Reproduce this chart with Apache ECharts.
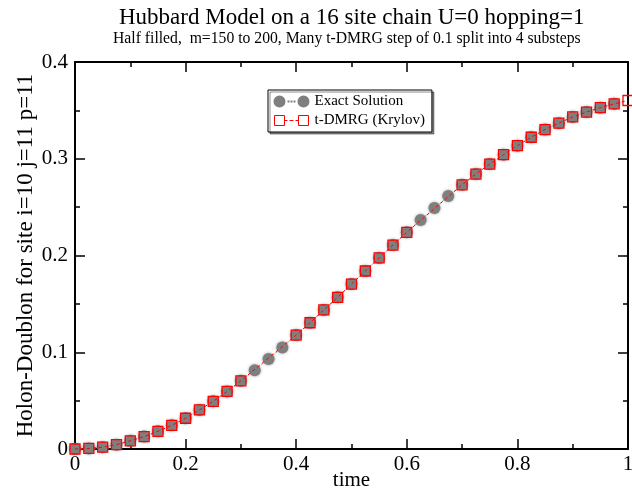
<!DOCTYPE html>
<html>
<head>
<meta charset="utf-8">
<script src="https://cdn.jsdelivr.net/npm/echarts@6/dist/echarts.min.js"></script>
<style>
  html, body { margin: 0; padding: 0; background: #fff; }
  #main { width: 632px; height: 492px; }
</style>
</head>
<body>
<div id="main"></div>
<script>
// exact solution, t = 0 .. 0.975
var exactTime = [0, 0.025, 0.05, 0.075, 0.1, 0.125, 0.15, 0.175, 0.2, 0.225,
  0.25, 0.275, 0.3, 0.325, 0.35, 0.375, 0.4, 0.425, 0.45, 0.475,
  0.5, 0.525, 0.55, 0.575, 0.6, 0.625, 0.65, 0.675, 0.7, 0.725,
  0.75, 0.775, 0.8, 0.825, 0.85, 0.875, 0.9, 0.925, 0.95, 0.975];
var exactValue = [0.0000, 0.0006, 0.0019, 0.0045, 0.0085, 0.0128, 0.0183, 0.0245, 0.0318, 0.0404,
  0.0493, 0.0595, 0.0705, 0.0814, 0.0930, 0.1050, 0.1178, 0.1305, 0.1437, 0.1568,
  0.1705, 0.1840, 0.1975, 0.2108, 0.2240, 0.2367, 0.2490, 0.2615, 0.2730, 0.2842,
  0.2945, 0.3042, 0.3135, 0.3222, 0.3302, 0.3368, 0.3432, 0.3482, 0.3528, 0.3568];

// t-DMRG (Krylov), some steps missing
var dmrgTime = [0, 0.025, 0.05, 0.075, 0.1, 0.125, 0.15, 0.175, 0.2, 0.225,
  0.25, 0.275, 0.3, 0.4, 0.425, 0.45, 0.475,
  0.5, 0.525, 0.55, 0.575, 0.6, 0.7, 0.725,
  0.75, 0.775, 0.8, 0.825, 0.85, 0.875, 0.9, 0.925, 0.95, 0.975, 1.0];
var dmrgValue = [0.0000, 0.0006, 0.0019, 0.0045, 0.0085, 0.0128, 0.0183, 0.0245, 0.0318, 0.0404,
  0.0493, 0.0595, 0.0705, 0.1178, 0.1305, 0.1437, 0.1568,
  0.1705, 0.1840, 0.1975, 0.2108, 0.2240, 0.2730, 0.2842,
  0.2945, 0.3042, 0.3135, 0.3222, 0.3302, 0.3368, 0.3432, 0.3482, 0.3528, 0.3568, 0.3602];

var xTicks = [0, 1, 0.2];
var yTicks = [0, 0.4, 0.1];

var font = "Liberation Serif";

var chartDom = document.getElementById("main");
var myChart = echarts.init(chartDom, null, { renderer: "canvas" });

function pairs(xs, ys) {
  return xs.map(function (x, i) { return [x, ys[i]]; });
}

var frameAxis = {
  type: "value",
  splitLine: { show: false },
  axisLine: { show: true, onZero: false, lineStyle: { color: "#000", width: 2 } },
  axisTick: { show: true, inside: true, length: 10, lineStyle: { color: "#000", width: 1.5 } },
  minorTick: { show: true, splitNumber: 2, length: 5, lineStyle: { color: "#000", width: 1.5 } },
};

var option = {
  animation: false,
  backgroundColor: "#fff",
  title: [
    {
      text: "Hubbard Model on a 16 site chain U=0 hopping=1",
      left: 119,
      top: 6,
      padding: 0,
      textStyle: { fontFamily: font, fontSize: 23, fontWeight: "normal", color: "#000" },
    },
    {
      text: "Half filled,  m=150 to 200, Many t-DMRG step of 0.1 split into 4 substeps",
      left: 113,
      top: 31,
      padding: 0,
      textStyle: { fontFamily: font, fontSize: 15.7, fontWeight: "normal", color: "#000" },
    },
  ],
  legend: {
    orient: "vertical",
    left: 268,
    top: 90,
    padding: [4, 7, 4, 5],
    itemGap: 4,
    itemWidth: 36,
    itemHeight: 12,
    backgroundColor: "#fff",
    borderColor: "#000",
    borderWidth: 1,
    borderRadius: 0,
    shadowColor: "rgba(0,0,0,0.45)",
    shadowOffsetX: 2,
    shadowOffsetY: 2,
    shadowBlur: 0,
    textStyle: { fontFamily: font, fontSize: 15, color: "#000" },
    data: [
      {
        name: "Exact Solution",
        icon: "path://M0,6a6,6 0 1,0 12,0a6,6 0 1,0 -12,0Z M24,6a6,6 0 1,0 12,0a6,6 0 1,0 -12,0Z M14,5h2v2h-2Z M17,5h2v2h-2Z M20,5h2v2h-2Z",
        itemStyle: { color: "#7f7f7f" },
      },
      {
        name: "t-DMRG (Krylov)",
        icon: "path://M1,1h10v10h-10Z M25,1h10v10h-10Z M11,6h3 M16,6h4 M22,6h3 M0,0h0.01 M36,12h0.01",
        itemStyle: { color: "rgba(0,0,0,0)", borderColor: "#ff0000", borderWidth: 1 },
      },
    ],
  },
  grid: { left: 75, right: 4, top: 62, bottom: 43, containLabel: false, outerBoundsMode: "none" },
  xAxis: [
    Object.assign({}, frameAxis, {
      min: xTicks[0], max: xTicks[1], interval: xTicks[2],
      position: "bottom",
      name: "time",
      nameLocation: "middle",
      nameGap: 21,
      nameMoveOverlap: false,
      nameTextStyle: { fontFamily: font, fontSize: 21, color: "#000" },
      axisLabel: { fontFamily: font, fontSize: 21, color: "#000", margin: 5 },
    }),
    Object.assign({}, frameAxis, {
      min: xTicks[0], max: xTicks[1], interval: xTicks[2],
      position: "top",
      axisLabel: { show: false },
    }),
  ],
  yAxis: [
    Object.assign({}, frameAxis, {
      min: yTicks[0], max: yTicks[1], interval: yTicks[2],
      position: "left",
      name: "Holon-Doublon for site i=10 j=11 p=11",
      nameLocation: "middle",
      nameGap: 38,
      nameMoveOverlap: false,
      nameTextStyle: { fontFamily: font, fontSize: 23, color: "#000" },
      axisLabel: { fontFamily: font, fontSize: 21, color: "#000", margin: 7 },
    }),
    Object.assign({}, frameAxis, {
      min: yTicks[0], max: yTicks[1], interval: yTicks[2],
      position: "right",
      axisLabel: { show: false },
    }),
  ],
  series: [
    {
      name: "Exact Solution",
      type: "line",
      xAxisIndex: 0,
      yAxisIndex: 0,
      data: pairs(exactTime, exactValue),
      symbol: "circle",
      symbolSize: 12,
      showAllSymbol: true,
      clip: false,
      itemStyle: { color: "#7f7f7f", shadowColor: "rgba(100,100,100,0.6)", shadowBlur: 3 },
      lineStyle: { color: "#9a9a9a", width: 1, type: "dotted" },
      z: 2,
    },
    {
      name: "t-DMRG (Krylov)",
      type: "line",
      xAxisIndex: 0,
      yAxisIndex: 0,
      data: pairs(dmrgTime, dmrgValue),
      symbol: "rect",
      symbolSize: 10,
      showAllSymbol: true,
      clip: false,
      itemStyle: { color: "rgba(0,0,0,0)", borderColor: "#ff0000", borderWidth: 1.3 },
      lineStyle: { color: "#ff0000", width: 1, type: [3, 3] },
      z: 3,
    },
  ],
};

option && myChart.setOption(option);
</script>
</body>
</html>
